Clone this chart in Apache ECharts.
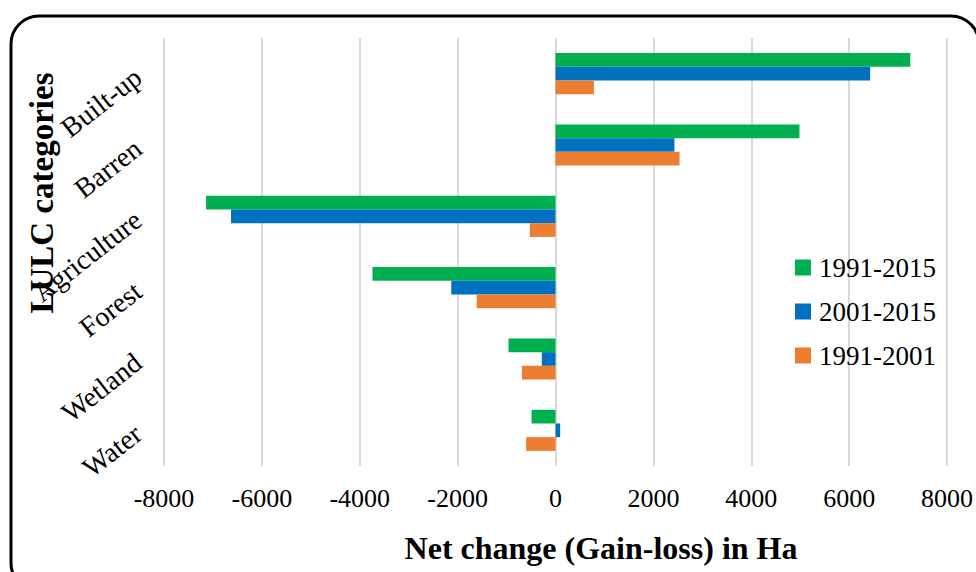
<!DOCTYPE html>
<html>
<head>
<meta charset="utf-8">
<script src="https://cdn.jsdelivr.net/npm/echarts@6/dist/echarts.min.js"></script>
<style>
html,body{margin:0;padding:0;background:#fff;}
#chart{width:976px;height:572px;}
</style>
</head>
<body>
<div id="chart"></div>
<script>
const categories = ['Built-up', 'Barren', 'Agriculture', 'Forest', 'Wetland', 'Water'];
const s1991_2015 = [7250, 4985, -7140, -3740, -960, -490];
const s2001_2015 = [6430, 2430, -6630, -2130, -280, 95];
const s1991_2001 = [785, 2535, -525, -1610, -685, -600];
const xTicks = {min: -8000, max: 8000, interval: 2000};

const serif = '"Liberation Serif", "Times New Roman", serif';
const chart = echarts.init(document.getElementById('chart'), null, {renderer: 'svg'});
chart.setOption({
  animation: false,
  grid: {left: 164, right: 27, top: 38, bottom: 106, containLabel: false},
  legend: {
    orient: 'vertical', left: 790, top: 249,
    itemWidth: 16, itemHeight: 16, itemGap: 17,
    icon: 'rect',
    data: ['1991-2015', '2001-2015', '1991-2001'],
    textStyle: {fontFamily: serif, fontSize: 27, color: '#000', padding: [0, 0, 0, 3]}
  },
  xAxis: {
    type: 'value', min: xTicks.min, max: xTicks.max, interval: xTicks.interval,
    axisLine: {show: false}, axisTick: {show: false},
    axisLabel: {fontFamily: serif, fontSize: 26, color: '#000', margin: 19, formatter: v => String(v)},
    splitLine: {lineStyle: {color: '#d9d9d9', width: 2}}
  },
  yAxis: {
    type: 'category', data: categories, inverse: true,
    axisLine: {show: false, onZero: false}, axisTick: {show: false},
    axisLabel: {fontFamily: serif, fontSize: 28, color: '#000', rotate: 38, margin: 26}
  },
  graphic: [
    {type: 'rect', shape: {x: 11, y: 16, width: 968, height: 575, r: 28},
     style: {fill: 'none', stroke: '#000', lineWidth: 3}, silent: true, z: 100},
    {type: 'text', x: 601, y: 548, style: {text: 'Net change (Gain-loss) in Ha', font: 'bold 32px ' + serif, fill: '#000', textAlign: 'center', textVerticalAlign: 'middle'}},
    {type: 'text', x: 42, y: 193, rotation: Math.PI / 2, style: {text: 'LULC categories', font: 'bold 33px ' + serif, fill: '#000', textAlign: 'center', textVerticalAlign: 'middle'}}
  ],
  series: [
    {name: '1991-2015', type: 'bar', data: s1991_2015, barWidth: 13.7, barGap: '0%', itemStyle: {color: '#00B050'}},
    {name: '2001-2015', type: 'bar', data: s2001_2015, barWidth: 13.7, barGap: '0%', itemStyle: {color: '#0070C0'}},
    {name: '1991-2001', type: 'bar', data: s1991_2001, barWidth: 13.7, barGap: '0%', itemStyle: {color: '#ED7D31'}}
  ]
});
</script>
</body>
</html>
